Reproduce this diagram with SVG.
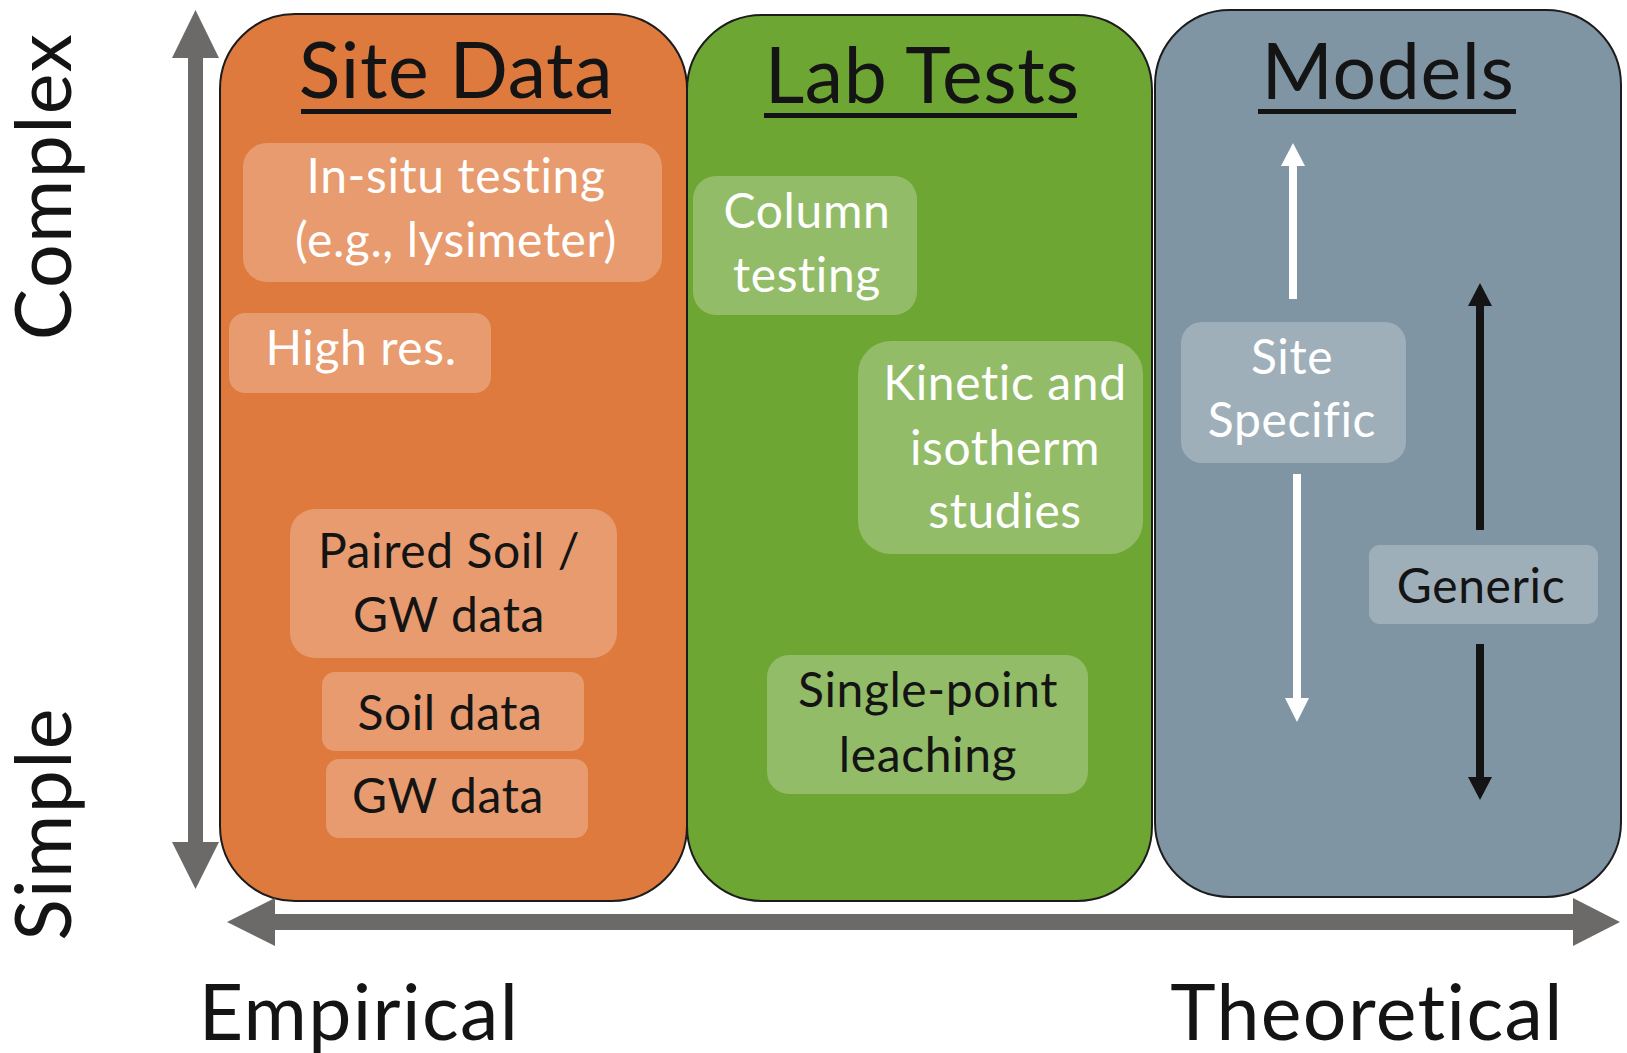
<svg xmlns="http://www.w3.org/2000/svg" width="1627" height="1053" viewBox="0 0 1627 1053">
<style>
.panel{stroke:#1c1c1c;stroke-width:2}
.box{fill:#ffffff;fill-opacity:0.25}
.t{font-family:Lato,"Open Sans","Liberation Sans",sans-serif;text-anchor:middle}
.title{font-size:77px;letter-spacing:0.6px;fill:#141414}
.body{font-size:48px;letter-spacing:0.6px}
.w{fill:#ffffff}
.d{fill:#141414}
.axis{font-size:77px;letter-spacing:1.4px;fill:#141414}
.ul{fill:#141414}
.gray{fill:#6b6a68}
</style>
<rect width="1627" height="1053" fill="#ffffff"/>

<g id="panel-site-data">
<rect class="panel" x="220" y="14" width="467" height="887" rx="75" fill="#df7a3e"/>
<text class="t title" x="456" y="98">Site Data</text>
<rect class="ul" x="301" y="109" width="310" height="5"/>
</g>
<g id="panel-lab-tests">
<rect class="panel" x="687" y="15" width="465" height="886" rx="75" fill="#6ea634"/>
<text class="t title" x="922" y="103">Lab Tests</text>
<rect class="ul" x="764" y="113" width="313" height="5"/>
</g>
<g id="panel-models">
<rect class="panel" x="1155" y="10" width="466" height="887" rx="75" fill="#7f95a3"/>
<text class="t title" x="1388" y="99">Models</text>
<rect class="ul" x="1258" y="109" width="258" height="5"/>
</g>

<g id="node-in-situ">
<rect class="box" x="243" y="143" width="419" height="139" rx="24"/>
<text class="t body w" x="456" y="193">In-situ testing</text>
<text class="t body w" x="456" y="257">(e.g., lysimeter)</text>
</g>
<g id="node-high-res">
<rect class="box" x="229" y="313" width="262" height="80" rx="16"/>
<text class="t body w" x="361" y="365">High res.</text>
</g>
<g id="node-paired">
<rect class="box" x="290" y="509" width="327" height="149" rx="25"/>
<text class="t body d" x="449" y="568">Paired Soil /</text>
<text class="t body d" x="449" y="632">GW data</text>
</g>
<g id="node-soil-data">
<rect class="box" x="322" y="672" width="262" height="79" rx="13"/>
<text class="t body d" x="450" y="730">Soil data</text>
</g>
<g id="node-gw-data">
<rect class="box" x="326" y="759" width="262" height="79" rx="13"/>
<text class="t body d" x="448" y="813">GW data</text>
</g>

<g id="node-column">
<rect class="box" x="693" y="176" width="224" height="139" rx="23"/>
<text class="t body w" x="807" y="228">Column</text>
<text class="t body w" x="807" y="292">testing</text>
</g>
<g id="node-kinetic">
<rect class="box" x="858" y="341" width="285" height="213" rx="33"/>
<text class="t body w" x="1005" y="400">Kinetic and</text>
<text class="t body w" x="1005" y="465">isotherm</text>
<text class="t body w" x="1005" y="528">studies</text>
</g>
<g id="node-single-point">
<rect class="box" x="767" y="655" width="321" height="139" rx="22"/>
<text class="t body d" x="928" y="707">Single-point</text>
<text class="t body d" x="928" y="772">leaching</text>
</g>

<g id="node-site-specific">
<rect class="box" x="1181" y="322" width="225" height="141" rx="21"/>
<text class="t body w" x="1292" y="374">Site</text>
<text class="t body w" x="1292" y="437">Specific</text>
</g>
<g id="node-generic">
<rect class="box" x="1369" y="545" width="229" height="79" rx="11"/>
<text class="t body d" x="1481" y="603">Generic</text>
</g>

<g id="connectors">
<rect class="gray" x="188" y="56" width="15" height="788"/>
<polygon class="gray" points="195.5,10 219,58 172,58"/>
<polygon class="gray" points="195.5,889 219,842 172,842"/>
<rect class="gray" x="273" y="914" width="1302" height="16"/>
<polygon class="gray" points="227,922 275,898 275,946"/>
<polygon class="gray" points="1620,922 1573,898 1573,946"/>
<rect fill="#ffffff" x="1289" y="164" width="8" height="135"/>
<polygon fill="#ffffff" points="1293,143 1305,166 1281,166"/>
<rect fill="#ffffff" x="1293" y="474" width="8" height="226"/>
<polygon fill="#ffffff" points="1297,722 1309,698 1285,698"/>
<rect fill="#141414" x="1476" y="304" width="8" height="226"/>
<polygon fill="#141414" points="1480,283 1492,306 1468,306"/>
<rect fill="#141414" x="1476" y="644" width="8" height="135"/>
<polygon fill="#141414" points="1480,800 1492,777 1468,777"/>
</g>

<g id="axis-labels">
<text class="t axis" transform="translate(71,186.5) rotate(-90)" x="0" y="0">Complex</text>
<text class="t axis" transform="translate(71,824) rotate(-90)" x="0" y="0">Simple</text>
<text class="t axis" x="359" y="1040">Empirical</text>
<text class="t axis" x="1367" y="1040">Theoretical</text>
</g>
</svg>
